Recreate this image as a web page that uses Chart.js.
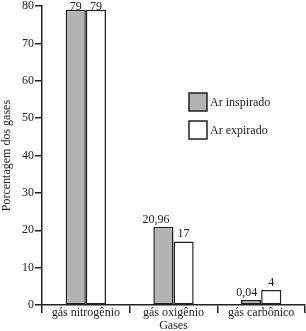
<!DOCTYPE html>
<html>
<head>
<meta charset="utf-8">
<script src="https://cdn.jsdelivr.net/npm/chart.js@4"></script>
<style>
  html, body { margin: 0; padding: 0; background: #fff; }
  #wrap { width: 306px; height: 331px; }
</style>
</head>
<body>
<div id="wrap"><canvas id="myChart"></canvas></div>
<script>
const categories = ['gás nitrogênio', 'gás oxigênio', 'gás carbônico'];
const inspirado = [79, 20.96, 0.04];
const expirado = [79, 17, 4];
const yTicks = [0, 10, 20, 30, 40, 50, 60, 70, 80];

const serif = '"Liberation Serif", "DejaVu Serif", serif';
const fmt = v => String(v).replace('.', ',');

// rótulos de valor em cima das barras
const valueLabels = {
    id: 'valueLabels',
    afterDatasetsDraw(chart) {
        const ctx = chart.ctx;
        ctx.save();
        ctx.font = '12px ' + serif;
        ctx.fillStyle = '#222';
        ctx.textAlign = 'center';
        ctx.textBaseline = 'alphabetic';
        chart.data.datasets.forEach((ds, i) => {
            chart.getDatasetMeta(i).data.forEach((bar, j) => {
                const txt = fmt(ds.data[j]);
                let x = bar.x;
                if (i === 0) {
                    // não deixar o texto invadir a barra vizinha
                    x = Math.min(x, bar.x + bar.width / 2 - ctx.measureText(txt).width / 2 - 4);
                    x = Math.max(x, bar.x - 8);
                }
                // não cortar o texto no topo do canvas
                ctx.fillText(txt, x, Math.max(bar.y - 4, 10));
            });
        });
        ctx.restore();
    }
};

// legenda dentro da área do gráfico
const boxLegend = {
    id: 'boxLegend',
    afterDraw(chart) {
        const ctx = chart.ctx;
        const x = 189, y0 = 93, size = 18, gap = 28;
        ctx.save();
        ctx.font = '12px ' + serif;
        ctx.textBaseline = 'middle';
        chart.data.datasets.forEach((ds, i) => {
            const y = y0 + i * gap;
            ctx.fillStyle = ds.backgroundColor;
            ctx.fillRect(x, y, size, size);
            ctx.lineWidth = 1.5;
            ctx.strokeStyle = '#222';
            ctx.strokeRect(x, y, size, size);
            ctx.fillStyle = '#222';
            ctx.fillText(ds.label, x + size + 3, y + size / 2 + 1);
        });
        ctx.restore();
    }
};

new Chart(document.getElementById('myChart'), {
    type: 'bar',
    data: {
        labels: categories,
        datasets: [
            {
                label: 'Ar inspirado',
                data: inspirado,
                backgroundColor: '#b3b3b3',
                borderColor: '#222',
                borderWidth: 1.5,
                borderSkipped: false,
                minBarLength: 5,
                categoryPercentage: 0.46,
                barPercentage: 1
            },
            {
                label: 'Ar expirado',
                data: expirado,
                backgroundColor: '#ffffff',
                borderColor: '#222',
                borderWidth: 1.5,
                borderSkipped: false,
                categoryPercentage: 0.46,
                barPercentage: 1
            }
        ]
    },
    options: {
        responsive: true,
        maintainAspectRatio: false,
        animation: false,
        layout: { padding: { top: 5, right: 1, left: 0, bottom: 0 } },
        scales: {
            x: {
                afterFit(scale) { scale.height = 26; },
                border: { color: '#222', width: 1.5 },
                grid: { display: true, drawOnChartArea: false, drawTicks: true, tickLength: 8, color: '#222', lineWidth: 1.5, offset: true },
                ticks: { color: '#222', font: { family: serif, size: 12 }, padding: -7 },
                title: { display: true, text: 'Gases', color: '#222', font: { family: serif, size: 12 }, padding: { top: 0, bottom: -2 } }
            },
            y: {
                min: 0,
                max: 80,
                afterFit(scale) { scale.width = 42; },
                afterBuildTicks(scale) { scale.ticks = yTicks.map(v => ({ value: v })); },
                border: { color: '#222', width: 1.5 },
                grid: { drawOnChartArea: false, drawTicks: true, tickLength: 7, color: '#222', lineWidth: 1.5 },
                ticks: { color: '#222', font: { family: serif, size: 12, lineHeight: 0.85 }, padding: 1 },
                title: { display: true, text: 'Porcentagem dos gases', color: '#222', font: { family: serif, size: 12 }, padding: 0 }
            }
        },
        plugins: {
            legend: { display: false },
            tooltip: { enabled: false }
        }
    },
    plugins: [valueLabels, boxLegend]
});
</script>
</body>
</html>
